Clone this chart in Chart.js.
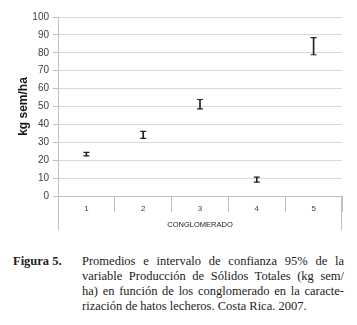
<!DOCTYPE html>
<html>
<head>
<meta charset="utf-8">
<script src="https://cdn.jsdelivr.net/npm/chart.js@4.4.1/dist/chart.umd.min.js"></script>
<style>
  html, body { margin: 0; padding: 0; background: #fff; }
  #wrap { position: relative; width: 357px; height: 325px; overflow: hidden; }
  #chartBox { position: absolute; left: 0; top: 0; width: 357px; height: 240px; }
  #caption { position: absolute; left: 13px; top: 254px; width: 331px;
    font-family: "Liberation Serif", "DejaVu Serif", serif; font-size: 12.5px; line-height: 15px; color: #222; }
  #caption .lbl { position: absolute; left: 0; top: 0; font-weight: bold; }
  #caption .txt { margin-left: 69px; }
  #caption .ln { text-align: justify; text-align-last: justify; white-space: nowrap; }
  #caption .ln.last { text-align-last: auto; }
</style>
</head>
<body>
<div id="wrap">
  <div id="chartBox"><canvas id="errChart" width="357" height="240"></canvas></div>
  <div id="caption">
    <span class="lbl">Figura 5.</span>
    <div class="txt">
      <div class="ln">Promedios e intervalo de confianza 95% de la</div>
      <div class="ln">variable Producción de Sólidos Totales (kg sem/</div>
      <div class="ln">ha) en función de los conglomerado en la caracte-</div>
      <div class="ln last">rización de hatos lecheros. Costa Rica. 2007.</div>
    </div>
  </div>
</div>
<script>
// conglomerados y valores (kg sem/ha)
const conglomerados = ['1', '2', '3', '4', '5'];
const promedios = [23.4, 34.1, 51.3, 9.1, 83.7];
const limInferior = [22.4, 32.2, 48.7, 7.8, 78.9];
const limSuperior = [24.4, 36.1, 53.9, 10.5, 88.5];
const yTicks = [0, 10, 20, 30, 40, 50, 60, 70, 80, 90, 100];

// extiende los bordes del eje de categorias hacia abajo (marco tipo Excel)
const marcoCategorias = {
  id: 'marcoCategorias',
  afterDraw(chart) {
    const ctx = chart.ctx;
    const area = chart.chartArea;
    const x = chart.scales.x;
    ctx.save();
    ctx.strokeStyle = '#bfbfbf';
    ctx.lineWidth = 1;
    ctx.beginPath();
    ctx.moveTo(Math.round(area.left) + 0.5, area.bottom);
    ctx.lineTo(Math.round(area.left) + 0.5, x.bottom);
    ctx.moveTo(Math.round(area.right) - 0.5, area.bottom);
    ctx.lineTo(Math.round(area.right) - 0.5, x.bottom);
    ctx.stroke();
    ctx.restore();
  }
};

function errorChart() {
  const ctx = document.getElementById('errChart').getContext('2d');

  const rangos = limInferior.map((v, i) => [v, limSuperior[i]]);

  const data = {
    labels: conglomerados,
    datasets: [
      {
        type: 'bar',
        label: 'IC 95%',
        data: rangos,
        backgroundColor: '#222',
        barThickness: 1,
        grouped: false
      },
      {
        type: 'line',
        label: 'Superior',
        data: limSuperior,
        showLine: false,
        pointStyle: 'line',
        pointRadius: 3,
        borderWidth: 1.2,
        borderColor: '#222'
      },
      {
        type: 'line',
        label: 'Inferior',
        data: limInferior,
        showLine: false,
        pointStyle: 'line',
        pointRadius: 3,
        borderWidth: 1.2,
        borderColor: '#222'
      },
      {
        type: 'line',
        label: 'Promedio',
        data: promedios,
        showLine: false,
        pointRadius: 0,
        borderColor: '#222'
      }
    ]
  };

  Chart.defaults.font.family = '"Liberation Sans", Arial, sans-serif';
  Chart.defaults.color = '#404040';

  const config = {
    data: data,
    options: {
      responsive: false,
      animation: false,
      layout: {
        padding: { top: 17, right: 15, bottom: 10, left: 0 }
      },
      plugins: {
        legend: { display: false },
        tooltip: { enabled: false }
      },
      scales: {
        y: {
          min: 0,
          max: 100,
          afterBuildTicks(scale) {
            scale.ticks = yTicks.map(v => ({ value: v }));
          },
          afterFit(scale) { scale.width = 58; },
          grid: { color: '#d9d9d9', tickLength: 5, tickColor: '#bfbfbf' },
          border: { color: '#bfbfbf' },
          ticks: { font: { size: 10 }, padding: 4, color: '#404040' },
          title: {
            display: true,
            text: 'kg sem/ha',
            color: '#1a1a1a',
            font: { size: 12, weight: 'bold' },
            padding: { top: 16, bottom: 0 }
          }
        },
        x: {
          type: 'category',
          offset: true,
          afterFit(scale) { scale.height = 34; },
          grid: {
            offset: true,
            drawOnChartArea: false,
            tickLength: 16,
            tickColor: '#bfbfbf'
          },
          border: { color: '#bfbfbf' },
          ticks: { font: { size: 8 }, padding: -8, color: '#404040' },
          title: {
            display: true,
            text: 'CONGLOMERADO',
            color: '#1a1a1a',
            font: { size: 7.5 },
            padding: { top: 0, bottom: 1 }
          }
        }
      }
    },
    plugins: [marcoCategorias]
  };
  const myChart = new Chart(ctx, config);
}

errorChart();
</script>
</body>
</html>
